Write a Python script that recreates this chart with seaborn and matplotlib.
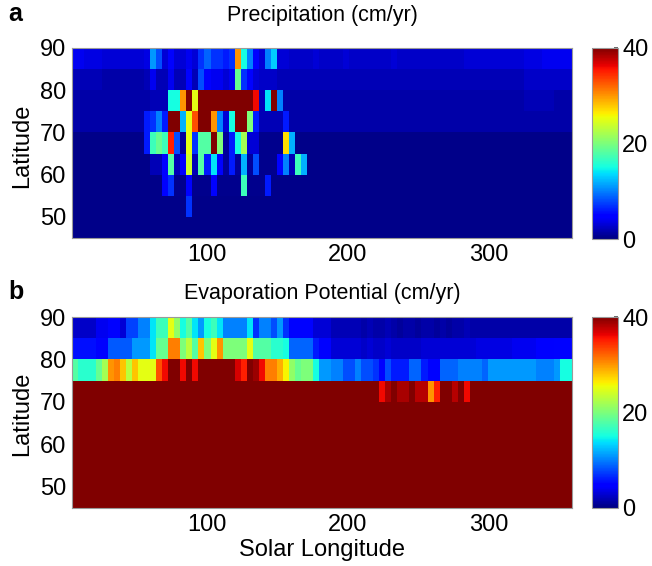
import matplotlib
matplotlib.use("Agg")
import matplotlib.pyplot as plt
import numpy as np
import pandas as pd
import seaborn as sns

# ---------------- data ----------------
# latitude bands (centres, deg N), top to bottom
latitude_bands = [87.5, 82.5, 77.5, 72.5, 67.5, 62.5, 57.5, 52.5, 47.5]
lat_ticks = [90, 80, 70, 60, 50]
ls_ticks = [100, 200, 300]
cbar_ticks = [0, 20, 40]

# Precipitation (cm/yr), one list per latitude band, 83 solar-longitude bins
precip_85_90 = [4, 4, 3.5, 3.5, 3.5, 3, 3, 3, 3, 3, 3, 3,
                3.5, 11, 8, 3, 5, 3, 3, 4, 3, 7, 9, 7,
                7, 6, 7, 30, 15, 10, 5, 3, 10, 13, 3, 3,
                2.5, 2.5, 2.5, 2.5, 3, 2.5, 2.5, 2.5, 2.5, 3, 2.5, 2.5,
                2.5, 2.5, 2.5, 2.5, 2.5, 3, 2.5, 2.5, 2.5, 2.5, 2.5, 2.5,
                2.5, 2.5, 2.5, 2.5, 2.5, 3, 3, 3, 3, 3, 3, 3,
                3, 3, 3, 3.5, 3.5, 3.5, 4, 4, 4, 4, 4]
precip_80_85 = [2, 2, 2, 2, 2, 1.5, 1.5, 1.5, 1.5, 1.5, 1.5, 1.5,
                2, 4, 2, 2, 4, 2, 2, 5, 2, 8, 5, 4,
                4, 3, 4, 19, 7, 5, 3, 2.5, 2.5, 2.5, 2, 2,
                2, 2, 2, 2, 2, 2, 2, 2, 2, 2, 2, 2,
                2, 2, 2, 2, 2, 2, 2, 2, 2, 2, 2, 2,
                2, 2, 2, 2, 2, 2, 2, 2, 2, 2, 2, 2,
                2, 2, 2, 2.5, 2.5, 2.5, 2.5, 2.5, 2.5, 2.5, 2.5]
precip_75_80 = [1.5, 1.5, 1.5, 1.5, 1.5, 1.5, 1.5, 1.5, 1.5, 1.5, 1.5, 1.5,
                1.5, 2, 2, 2, 15, 15, 30, 40, 25, 40, 40, 40,
                40, 40, 40, 40, 40, 40, 36, 2, 14, 40, 10, 1.5,
                1.5, 1.5, 1.5, 1.5, 1.5, 1.5, 1.5, 1.5, 1.5, 1.5, 1.5, 1.5,
                1.5, 1.5, 1.5, 1.5, 1.5, 1.5, 1.5, 1.5, 1.5, 1.5, 1.5, 1.5,
                1.5, 1.5, 1.5, 1.5, 1.5, 1.5, 1.5, 1.5, 1.5, 1.5, 1.5, 1.5,
                1.5, 1.5, 1.5, 2, 2, 2, 2, 2, 1.5, 1.5, 1.5]
precip_70_75 = [1.5, 1.5, 1.5, 1.5, 1.5, 1.5, 1.5, 1.5, 1.5, 1.5, 1.5, 1.5,
                6, 7, 10, 6, 40, 40, 12, 25, 33, 40, 40, 30,
                10, 3, 15, 40, 40, 20, 6, 2, 2, 2, 2, 6,
                1.5, 1.5, 1.5, 1.5, 1.5, 1.5, 1.5, 1.5, 1.5, 1.5, 1.5, 1.5,
                1.5, 1.5, 1.5, 1.5, 1.5, 1.5, 1.5, 1.5, 1.5, 1.5, 1.5, 1.5,
                1.5, 1.5, 1.5, 1.5, 1.5, 1.5, 1.5, 1.5, 1.5, 1.5, 1.5, 1.5,
                1.5, 1.5, 1.5, 1.5, 1.5, 1.5, 1.5, 1.5, 1.5, 1.5, 1.5]
precip_65_70 = [0.4, 0.4, 0.4, 0.4, 0.4, 0.4, 0.4, 0.4, 0.4, 0.4, 0.4, 0.4,
                6, 17, 19, 17, 35, 8, 1, 25, 7, 18, 18, 40,
                20, 1, 6, 15, 22, 3, 3, 0.5, 0.5, 0.5, 0.5, 27,
                12, 0.4, 0.4, 0.4, 0.4, 0.4, 0.4, 0.4, 0.4, 0.4, 0.4, 0.4,
                0.4, 0.4, 0.4, 0.4, 0.4, 0.4, 0.4, 0.4, 0.4, 0.4, 0.4, 0.4,
                0.4, 0.4, 0.4, 0.4, 0.4, 0.4, 0.4, 0.4, 0.4, 0.4, 0.4, 0.4,
                0.4, 0.4, 0.4, 0.4, 0.4, 0.4, 0.4, 0.4, 0.4, 0.4, 0.4]
precip_60_65 = [0.4, 0.4, 0.4, 0.4, 0.4, 0.4, 0.4, 0.4, 0.4, 0.4, 0.4, 0.4,
                0.4, 2, 2, 5, 18, 2, 5, 24, 2, 18, 6, 14,
                5, 1, 6, 1, 12, 1, 8, 0.5, 0.5, 0.5, 5, 10,
                2, 17, 12, 0.4, 0.4, 0.4, 0.4, 0.4, 0.4, 0.4, 0.4, 0.4,
                0.4, 0.4, 0.4, 0.4, 0.4, 0.4, 0.4, 0.4, 0.4, 0.4, 0.4, 0.4,
                0.4, 0.4, 0.4, 0.4, 0.4, 0.4, 0.4, 0.4, 0.4, 0.4, 0.4, 0.4,
                0.4, 0.4, 0.4, 0.4, 0.4, 0.4, 0.4, 0.4, 0.4, 0.4, 0.4]
precip_55_60 = [0.4, 0.4, 0.4, 0.4, 0.4, 0.4, 0.4, 0.4, 0.4, 0.4, 0.4, 0.4,
                0.4, 0.4, 0.4, 5, 7, 0.5, 0.5, 5, 0.5, 0.5, 0.5, 5,
                0.5, 0.5, 0.5, 0.5, 17, 0.5, 0.5, 0.5, 6, 0.4, 0.4, 0.4,
                0.4, 0.4, 0.4, 0.4, 0.4, 0.4, 0.4, 0.4, 0.4, 0.4, 0.4, 0.4,
                0.4, 0.4, 0.4, 0.4, 0.4, 0.4, 0.4, 0.4, 0.4, 0.4, 0.4, 0.4,
                0.4, 0.4, 0.4, 0.4, 0.4, 0.4, 0.4, 0.4, 0.4, 0.4, 0.4, 0.4,
                0.4, 0.4, 0.4, 0.4, 0.4, 0.4, 0.4, 0.4, 0.4, 0.4, 0.4]
precip_50_55 = [0.4, 0.4, 0.4, 0.4, 0.4, 0.4, 0.4, 0.4, 0.4, 0.4, 0.4, 0.4,
                0.4, 0.4, 0.4, 0.4, 0.4, 0.4, 0.4, 7, 0.4, 0.4, 0.4, 0.4,
                0.4, 0.4, 0.4, 0.4, 0.4, 0.4, 0.4, 0.4, 0.4, 0.4, 0.4, 0.4,
                0.4, 0.4, 0.4, 0.4, 0.4, 0.4, 0.4, 0.4, 0.4, 0.4, 0.4, 0.4,
                0.4, 0.4, 0.4, 0.4, 0.4, 0.4, 0.4, 0.4, 0.4, 0.4, 0.4, 0.4,
                0.4, 0.4, 0.4, 0.4, 0.4, 0.4, 0.4, 0.4, 0.4, 0.4, 0.4, 0.4,
                0.4, 0.4, 0.4, 0.4, 0.4, 0.4, 0.4, 0.4, 0.4, 0.4, 0.4]
precip_45_50 = [0.4, 0.4, 0.4, 0.4, 0.4, 0.4, 0.4, 0.4, 0.4, 0.4, 0.4, 0.4,
                0.4, 0.4, 0.4, 0.4, 0.4, 0.4, 0.4, 0.4, 0.4, 0.4, 0.4, 0.4,
                0.4, 0.4, 0.4, 0.4, 0.4, 0.4, 0.4, 0.4, 0.4, 0.4, 0.4, 0.4,
                0.4, 0.4, 0.4, 0.4, 0.4, 0.4, 0.4, 0.4, 0.4, 0.4, 0.4, 0.4,
                0.4, 0.4, 0.4, 0.4, 0.4, 0.4, 0.4, 0.4, 0.4, 0.4, 0.4, 0.4,
                0.4, 0.4, 0.4, 0.4, 0.4, 0.4, 0.4, 0.4, 0.4, 0.4, 0.4, 0.4,
                0.4, 0.4, 0.4, 0.4, 0.4, 0.4, 0.4, 0.4, 0.4, 0.4, 0.4]

# Evaporation potential (cm/yr)
evap_85_90 = [2.5, 2.5, 2.5, 2.5, 4, 4, 5, 5, 3, 7.5, 7.5, 10,
              10, 14, 17, 17, 25, 21, 15, 18, 14, 11, 15, 17,
              14, 10, 10, 10, 10, 14, 7, 10, 10, 8, 11, 7,
              5, 5, 5, 5, 3, 3, 3, 2, 2, 2, 2, 2,
              1.5, 2, 1.5, 1.5, 2, 1.5, 1, 1.5, 1.5, 1, 1.5, 1.5,
              1, 1.5, 1, 1.5, 1.5, 2, 1.5, 1.5, 1.5, 1.5, 1.5, 1.5,
              1.5, 1.5, 1.5, 1.5, 1.5, 1.5, 1.5, 1.5, 1.5, 1.5, 1.5]
evap_80_85 = [5.5, 5.5, 5.5, 5.5, 5, 5, 8.5, 8.5, 8.5, 8.5, 11, 11,
              11, 14, 19, 19, 31, 31, 20, 23, 18, 28, 20, 25,
              30, 20, 20, 20, 20, 25, 18, 18, 18, 16, 16, 15,
              9, 9, 9, 9, 6, 5, 5, 3, 3, 3, 3, 3,
              2.5, 3, 2.5, 2.5, 3, 2.5, 2.5, 2.5, 2.5, 2.5, 3, 3,
              3, 3, 3, 3, 3, 3, 3, 3.5, 3.5, 3.5, 3.5, 3.5,
              3.5, 4, 4, 4, 4, 4.5, 4.5, 4.5, 5, 5, 5]
evap_75_80 = [18, 16, 16, 16, 19, 22, 30, 31, 28, 23, 28, 25,
              25, 25, 33, 36, 40, 40, 36, 40, 36, 40, 40, 40,
              40, 40, 40, 37, 35, 40, 39, 36, 31, 31, 29, 26,
              21, 19, 20, 20, 15, 11, 11, 10, 10, 8, 8, 10,
              8, 8, 7, 5, 8, 6, 6, 6, 9, 9, 6, 5,
              5, 9, 9, 9, 10, 10, 10, 10, 9, 11, 11, 11,
              11, 11, 11, 11, 11, 10, 10, 10, 11, 15, 15]
evap_70_75 = [40, 40, 40, 40, 40, 40, 40, 40, 40, 40, 40, 40,
              40, 40, 40, 40, 40, 40, 40, 40, 40, 40, 40, 40,
              40, 40, 40, 40, 40, 40, 40, 40, 40, 40, 40, 40,
              40, 40, 40, 40, 40, 40, 40, 40, 40, 40, 40, 40,
              40, 40, 40, 36, 38.5, 40, 38.5, 38.5, 40, 38, 38, 30,
              35, 40, 40, 38, 40, 36, 40, 40, 40, 40, 40, 40,
              40, 40, 40, 40, 40, 40, 40, 40, 40, 40, 40]
evap_65_70 = [40, 40, 40, 40, 40, 40, 40, 40, 40, 40, 40, 40,
              40, 40, 40, 40, 40, 40, 40, 40, 40, 40, 40, 40,
              40, 40, 40, 40, 40, 40, 40, 40, 40, 40, 40, 40,
              40, 40, 40, 40, 40, 40, 40, 40, 40, 40, 40, 40,
              40, 40, 40, 40, 40, 40, 40, 40, 40, 40, 40, 40,
              40, 40, 40, 40, 40, 40, 40, 40, 40, 40, 40, 40,
              40, 40, 40, 40, 40, 40, 40, 40, 40, 40, 40]
evap_60_65 = list(evap_65_70)
evap_55_60 = list(evap_65_70)
evap_50_55 = list(evap_65_70)
evap_45_50 = list(evap_65_70)

precip_rows = [precip_85_90, precip_80_85, precip_75_80, precip_70_75, precip_65_70,
               precip_60_65, precip_55_60, precip_50_55, precip_45_50]
evap_rows = [evap_85_90, evap_80_85, evap_75_80, evap_70_75, evap_65_70,
             evap_60_65, evap_55_60, evap_50_55, evap_45_50]

# ---------------- layout ----------------
LS_START, LS_END = 4.15, 359.0
N_COLS = len(precip_85_90)
col_w = (LS_END - LS_START) / N_COLS
ls_centres = [round(LS_START + col_w * (i + 0.5), 2) for i in range(N_COLS)]

precip_df = pd.DataFrame(precip_rows, index=latitude_bands, columns=ls_centres)
evap_df = pd.DataFrame(evap_rows, index=latitude_bands, columns=ls_centres)

sns.set_theme(style="white")
plt.rcParams["font.family"] = ["Liberation Sans", "DejaVu Sans"]
for key in ["text.color", "axes.labelcolor", "xtick.color", "ytick.color"]:
    plt.rcParams[key] = "black"

W, H = 652, 566
fig = plt.figure(figsize=(W / 100, H / 100), dpi=100)


def box(x0, y0, x1, y1):
    return [x0 / W, 1 - y1 / H, (x1 - x0) / W, (y1 - y0) / H]


ax1 = fig.add_axes(box(71.85, 48, 572.2, 238))
cax1 = fig.add_axes(box(592, 48, 618, 239))
ax2 = fig.add_axes(box(71.85, 317, 572.2, 508))
cax2 = fig.add_axes(box(592, 317, 618, 508))

FS = 17
edge = "#9a9a9a"
for ax, cax, df in [(ax1, cax1, precip_df), (ax2, cax2, evap_df)]:
    sns.heatmap(df, ax=ax, cmap="jet", vmin=0, vmax=40, cbar_ax=cax,
                cbar_kws={"ticks": cbar_ticks},
                xticklabels=False, yticklabels=False)
    ax.set_xticks([(v - LS_START) / col_w for v in ls_ticks])
    ax.set_xticklabels([str(v) for v in ls_ticks])
    ax.set_yticks([(90 - lat) / 5 for lat in lat_ticks])
    ax.set_yticklabels([str(v) for v in lat_ticks], rotation=0)
    ax.tick_params(length=0, labelsize=FS, pad=4, labelcolor="black")
    ax.set_xlabel("")
    ax.set_ylabel("")
    for s in ax.spines.values():
        s.set_visible(True)
        s.set_color(edge)
        s.set_linewidth(0.8)
    cbar = ax.collections[0].colorbar
    cbar.outline.set_edgecolor(edge)
    cbar.outline.set_linewidth(0.8)
    cax.tick_params(labelsize=FS, length=3, direction="in", pad=3,
                    color="#555555", labelcolor="black")

fig.text(0.4942, 1 - 16 / H, "Precipitation (cm/yr)", ha="center", va="center",
         fontsize=15.5, color="black")
fig.text(0.4942, 1 - 293 / H, "Evaporation Potential (cm/yr)", ha="center", va="center",
         fontsize=15.5, color="black")
fig.text(8 / W, 1 - 14 / H, "a", ha="left", va="center", fontsize=18,
         fontweight="bold", color="black")
fig.text(8 / W, 1 - 292 / H, "b", ha="left", va="center", fontsize=18,
         fontweight="bold", color="black")
fig.text(22 / W, 1 - 146 / H, "Latitude", ha="center", va="center", rotation=90,
         fontsize=FS, color="black")
fig.text(22 / W, 1 - 414 / H, "Latitude", ha="center", va="center", rotation=90,
         fontsize=FS, color="black")
fig.text(0.4942, 1 - 550 / H, "Solar Longitude", ha="center", va="center",
         fontsize=FS, color="black")

fig.savefig("out.png", dpi=100, facecolor="white")
